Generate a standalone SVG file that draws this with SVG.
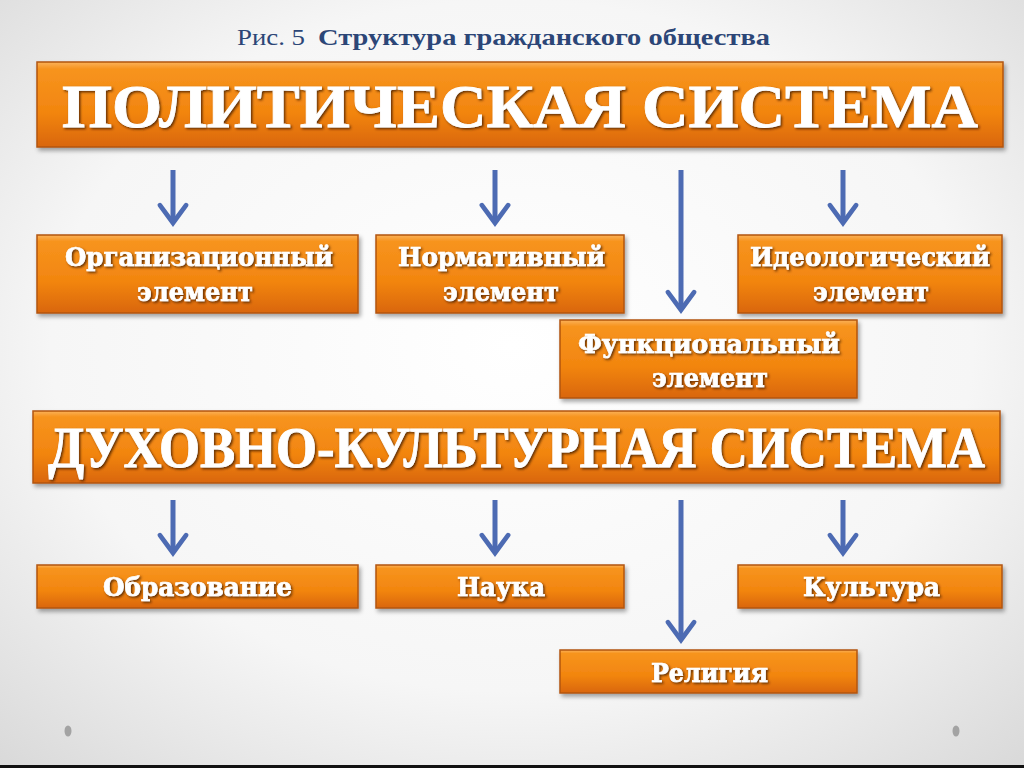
<svg xmlns="http://www.w3.org/2000/svg" width="1024" height="768" viewBox="0 0 1024 768">
<defs>
<radialGradient id="bg" cx="0.5" cy="0.45" r="0.75">
<stop offset="0" stop-color="#ffffff"/>
<stop offset="0.6" stop-color="#f6f6f6"/>
<stop offset="1" stop-color="#d8d8d8"/>
</radialGradient>
<linearGradient id="og" x1="0" y1="0" x2="0" y2="1">
<stop offset="0" stop-color="#fbb25a"/>
<stop offset="0.08" stop-color="#f7941e"/>
<stop offset="0.6" stop-color="#f2850f"/>
<stop offset="1" stop-color="#d9660a"/>
</linearGradient>
<filter id="bs" x="-5%" y="-20%" width="110%" height="150%">
<feDropShadow dx="2" dy="3" stdDeviation="2" flood-color="#000" flood-opacity="0.35"/>
</filter>
<filter id="ts" x="-5%" y="-30%" width="110%" height="160%">
<feDropShadow dx="1.5" dy="1.5" stdDeviation="1" flood-color="#4a2000" flood-opacity="0.85"/>
</filter>
<marker id="ah" markerUnits="userSpaceOnUse" markerWidth="30" markerHeight="40" viewBox="-26 -20 32 40" refX="0" refY="0" orient="auto" overflow="visible">
<path d="M-19,-14 L0,0 L-19,14" fill="none" stroke="#4d6bb3" stroke-width="5" stroke-linecap="round" stroke-linejoin="miter"/>
</marker>
<style>
.box{fill:url(#og);stroke:#b3560e;stroke-width:1.5;filter:url(#bs)}
.big{font-family:"Liberation Serif","DejaVu Serif",serif;font-weight:bold;fill:#ffffff;stroke:#ffffff;stroke-width:0.8;filter:url(#ts)}
.lbl{font-family:"DejaVu Serif","Liberation Serif",serif;font-weight:bold;fill:#ffffff;stroke:#ffffff;stroke-width:0.7;font-size:26px;filter:url(#ts)}
.ttl{font-family:"Liberation Serif","DejaVu Serif",serif;fill:#2c4677;font-size:23px}
.arr{stroke:#4d6bb3;stroke-width:5;fill:none;marker-end:url(#ah)}
</style>
</defs>
<rect width="1024" height="768" fill="url(#bg)"/>
<rect x="0" y="765" width="1024" height="3" fill="#111"/>
<ellipse cx="68" cy="731" rx="3.5" ry="5.5" fill="#a3a3a3"/>
<ellipse cx="956" cy="731" rx="3.5" ry="5.5" fill="#a3a3a3"/>

<g id="title">
<text class="ttl" x="237" y="45" textLength="68" lengthAdjust="spacingAndGlyphs">Рис. 5</text>
<text class="ttl" x="318" y="45" font-weight="bold" textLength="452" lengthAdjust="spacingAndGlyphs">Структура гражданского общества</text>
</g>

<g id="connectors">
<line class="arr" x1="173" y1="170" x2="173" y2="223"/>
<line class="arr" x1="495" y1="170" x2="495" y2="223"/>
<line class="arr" x1="681" y1="170" x2="681" y2="310"/>
<line class="arr" x1="843" y1="170" x2="843" y2="223"/>
<line class="arr" x1="173" y1="500" x2="173" y2="553"/>
<line class="arr" x1="495" y1="500" x2="495" y2="553"/>
<line class="arr" x1="681" y1="500" x2="681" y2="640"/>
<line class="arr" x1="843" y1="500" x2="843" y2="553"/>
</g>

<g id="political">
<rect class="box" x="37" y="62" width="966" height="85"/>
<text class="big" x="62" y="127" font-size="62" textLength="916" lengthAdjust="spacingAndGlyphs">ПОЛИТИЧЕСКАЯ СИСТЕМА</text>
</g>

<g id="org">
<rect class="box" x="37" y="235" width="321" height="78"/>
<text class="lbl" x="65" y="266" textLength="268" lengthAdjust="spacingAndGlyphs">Организационный</text>
<text class="lbl" x="137" y="301" textLength="116" lengthAdjust="spacingAndGlyphs">элемент</text>
</g>

<g id="norm">
<rect class="box" x="376" y="235" width="248" height="78"/>
<text class="lbl" x="398" y="266" textLength="207" lengthAdjust="spacingAndGlyphs">Нормативный</text>
<text class="lbl" x="443" y="301" textLength="116" lengthAdjust="spacingAndGlyphs">элемент</text>
</g>

<g id="ideo">
<rect class="box" x="738" y="235" width="264" height="78"/>
<text class="lbl" x="750" y="266" textLength="240" lengthAdjust="spacingAndGlyphs">Идеологический</text>
<text class="lbl" x="813" y="301" textLength="116" lengthAdjust="spacingAndGlyphs">элемент</text>
</g>

<g id="func">
<rect class="box" x="560" y="320" width="297" height="78"/>
<text class="lbl" x="578" y="353" textLength="262" lengthAdjust="spacingAndGlyphs">Функциональный</text>
<text class="lbl" x="652" y="387" textLength="116" lengthAdjust="spacingAndGlyphs">элемент</text>
</g>

<g id="spiritual">
<rect class="box" x="33" y="411" width="967" height="72"/>
<text class="big" transform="translate(48,467) scale(1,1.08)" x="0" y="0" font-size="52" textLength="937" lengthAdjust="spacingAndGlyphs">ДУХОВНО-КУЛЬТУРНАЯ СИСТЕМА</text>
</g>

<g id="education">
<rect class="box" x="37" y="565" width="321" height="43"/>
<text class="lbl" x="103" y="596" textLength="189" lengthAdjust="spacingAndGlyphs">Образование</text>
</g>

<g id="science">
<rect class="box" x="376" y="565" width="248" height="43"/>
<text class="lbl" x="457" y="596" textLength="88" lengthAdjust="spacingAndGlyphs">Наука</text>
</g>

<g id="culture">
<rect class="box" x="738" y="565" width="264" height="43"/>
<text class="lbl" x="803" y="596" textLength="137" lengthAdjust="spacingAndGlyphs">Культура</text>
</g>

<g id="religion">
<rect class="box" x="560" y="650" width="297" height="43"/>
<text class="lbl" x="651" y="682" textLength="117" lengthAdjust="spacingAndGlyphs">Религия</text>
</g>
</svg>
